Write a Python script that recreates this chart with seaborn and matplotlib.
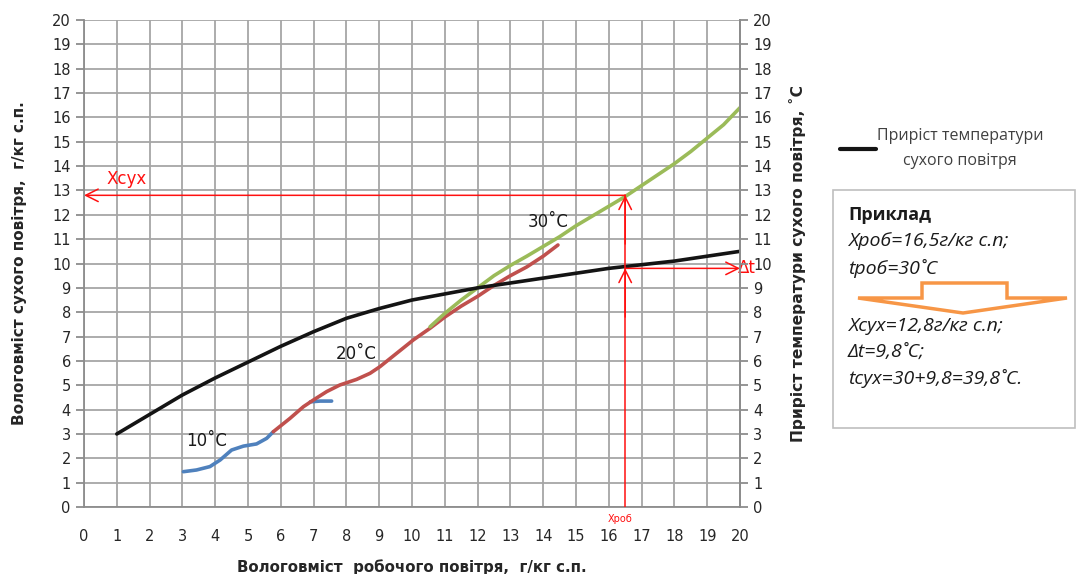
import numpy as np
import pandas as pd
import matplotlib
matplotlib.use("Agg")
import matplotlib.pyplot as plt
import seaborn as sns
from matplotlib.lines import Line2D
from matplotlib.patches import Rectangle, Polygon

# --- дані ---
x_dt = [1, 2, 3, 4, 5, 6, 7, 8, 9, 10, 11, 12, 13, 14, 15, 16, 17, 18, 19, 20]
y_dt = [3.0, 3.8, 4.6, 5.3, 5.95, 6.6, 7.2, 7.75, 8.15, 8.5, 8.75, 9.0, 9.2, 9.4,
        9.6, 9.8, 9.95, 10.1, 10.3, 10.5]

x_10 = [3.03, 3.43, 3.84, 4.15, 4.5, 4.86, 5.26, 5.57, 5.77]
y_10 = [1.45, 1.52, 1.66, 1.93, 2.34, 2.5, 2.59, 2.82, 3.09]
x_10b = [6.9, 7.2, 7.55]
y_10b = [4.32, 4.35, 4.35]

x_20 = [5.77, 6.28, 6.69, 6.99, 7.4, 7.8, 8.31, 8.72, 9.02, 9.53, 10.04, 10.55,
        11.0, 11.5, 12.0, 12.5, 13.0, 13.5, 14.0, 14.45]
y_20 = [3.09, 3.64, 4.12, 4.39, 4.74, 5.01, 5.24, 5.49, 5.76, 6.31, 6.86, 7.34,
        7.8, 8.25, 8.65, 9.1, 9.5, 9.86, 10.3, 10.76]

x_30 = [10.55, 11, 11.5, 12, 12.5, 13, 13.5, 14, 14.5, 15, 15.5, 16, 16.5, 17,
        17.5, 18, 18.5, 19, 19.5, 20]
y_30 = [7.4, 7.95, 8.5, 9.0, 9.5, 9.92, 10.3, 10.7, 11.1, 11.55, 11.95, 12.35,
        12.75, 13.2, 13.65, 14.1, 14.6, 15.15, 15.7, 16.4]

x_rob = 16.5
x_suh = 12.8
dt = 9.8

ticks = list(range(0, 21))
curve_labels = ["10˚C", "20˚C", "30˚C"]
legend_label = "Приріст температури\nсухого повітря"
example_lines = ["Xроб=16,5г/кг с.п;", "tроб=30˚С", "Xсух=12,8г/кг с.п;",
                 "Δt=9,8˚С;", "tсух=30+9,8=39,8˚С."]

# --- оформлення ---
sns.set_style("white")
plt.rcParams['font.family'] = ['DejaVu Sans']

W, H = 1083, 574
fig = plt.figure(figsize=(W / 100, H / 100), dpi=100)
ax = fig.add_axes([84 / W, 1 - 507 / H, (740 - 84) / W, (507 - 20) / H])

blue = "#4f81bd"
red = "#c0504d"
green = "#9bbb59"
grey = "#8c8c8c"
ann = "#ff1010"

lw = 2.6
sns.lineplot(x=x_dt, y=y_dt, color="#141414", lw=lw, ax=ax, zorder=5)
sns.lineplot(x=x_10, y=y_10, color=blue, lw=lw, ax=ax, zorder=3)
sns.lineplot(x=x_10b, y=y_10b, color=blue, lw=lw, ax=ax, zorder=3)
sns.lineplot(x=x_20, y=y_20, color=red, lw=lw, ax=ax, zorder=3)
sns.lineplot(x=x_30, y=y_30, color=green, lw=lw, ax=ax, zorder=4)
for l in ax.lines:
    l.set_solid_joinstyle("round")
    l.set_solid_capstyle("round")

ax.set_xlim(0, 20)
ax.set_ylim(0, 20)
ax.set_xticks(ticks)
ax.set_yticks(ticks)
ax.set_xticks(np.arange(0.5, 20, 1), minor=True)
ax.grid(True, which="major", color="#a6a6a6", lw=1.3)
ax.set_axisbelow(True)
for s in ax.spines.values():
    s.set_color(grey)
    s.set_linewidth(1.3)
ax.spines["top"].set_visible(False)
ax.tick_params(axis="both", which="major", direction="out", length=6, width=1.3,
               color=grey, labelsize=10.5, labelcolor="#262626")
ax.tick_params(axis="x", which="major", pad=10)
ax.tick_params(axis="x", which="minor", direction="out", length=3, width=1.3, color=grey)

ax.set_xlabel("Вологовміст  робочого повітря,  г/кг с.п.", fontsize=10.8,
              fontweight="bold", labelpad=11)
ax.set_ylabel("Вологовміст сухого повітря,  г/кг с.п.", fontsize=11,
              fontweight="bold", labelpad=18)

ax2 = ax.twinx()
ax2.set_ylim(0, 20)
ax2.set_yticks(ticks)
for s in ax2.spines.values():
    s.set_visible(False)
ax2.spines["right"].set_visible(True)
ax2.spines["right"].set_color(grey)
ax2.spines["right"].set_linewidth(1.3)
ax2.tick_params(axis="y", direction="out", length=6, width=1.3, color=grey,
                labelsize=10.5, labelcolor="#262626")
ax2.set_ylabel("Приріст температури сухого повітря, ˚С", fontsize=11.2,
               fontweight="bold", labelpad=12)
ax2.grid(False)

# підписи кривих
ax.text(3.75, 2.7, curve_labels[0], fontsize=12, ha="center", va="center",
        color="#1a1a1a", zorder=6)
ax.text(8.3, 6.3, curve_labels[1], fontsize=12, ha="center", va="center",
        color="#1a1a1a", zorder=6)
ax.text(14.15, 11.7, curve_labels[2], fontsize=12, ha="center", va="center",
        color="#1a1a1a", zorder=6)

# червоні допоміжні лінії
ap = dict(arrowstyle="->,head_length=0.9,head_width=0.45", color=ann, lw=1.1,
          shrinkA=0, shrinkB=0)
ax.plot([x_rob, x_rob], [0, x_suh], color=ann, lw=1.1, zorder=6)
ax.annotate("", xy=(0, x_suh), xytext=(x_rob, x_suh), arrowprops=ap, zorder=6)
ax.annotate("", xy=(x_rob, x_suh), xytext=(x_rob, x_suh - 2), arrowprops=ap, zorder=6)
ax.annotate("", xy=(x_rob, dt), xytext=(x_rob, dt - 2), arrowprops=ap, zorder=6)
ax.annotate("", xy=(20, dt), xytext=(x_rob, dt), arrowprops=ap, zorder=6,
            annotation_clip=False)
ax.text(1.3, 13.45, "Xсух", color=ann, fontsize=12, ha="center", va="center")
ax.text(19.95, dt, "Δt", color=ann, fontsize=12, ha="left", va="center",
        clip_on=False)
ax.text(16.35, -0.5, "Xроб", color=ann, fontsize=7, ha="center", va="center",
        clip_on=False)

# легенда
fam = ["Open Sans", "DejaVu Sans"]
h = Line2D([], [], color="#141414", lw=3)
leg = fig.legend([h], [legend_label], loc="upper left",
                 bbox_to_anchor=(826 / W, 1 - 114 / H), frameon=False,
                 handlelength=2.2, handletextpad=0.1,
                 prop={"family": fam, "size": 11.5})
for t in leg.get_texts():
    t.set_color("#404040")
    t.set_multialignment("center")
    t.set_linespacing(1.75)

# блок з прикладом
fig.patches.append(Rectangle((833 / W, 1 - 428 / H), 242 / W, 238 / H,
                             transform=fig.transFigure, fill=False,
                             edgecolor="#bfbfbf", lw=1.2))
fig.text(848 / W, 1 - 215 / H, "Приклад", family=fam, fontsize=13,
         fontweight="bold", va="center", color="#1a1a1a")
ys = [241, 268, 326, 352, 378]
for s, y in zip(example_lines, ys):
    fig.text(848 / W, 1 - y / H, s, family=fam, fontsize=14, style="italic",
             va="center", color="#1a1a1a")

arrow_px = [(922, 283), (1007, 283), (1007, 298), (1067, 298), (963, 313),
            (858, 298), (922, 298)]
fig.patches.append(Polygon([(px / W, 1 - py / H) for px, py in arrow_px],
                           closed=True, transform=fig.transFigure,
                           facecolor="white", edgecolor="#f79646", lw=2.5))

fig.savefig("out.png", dpi=100)
